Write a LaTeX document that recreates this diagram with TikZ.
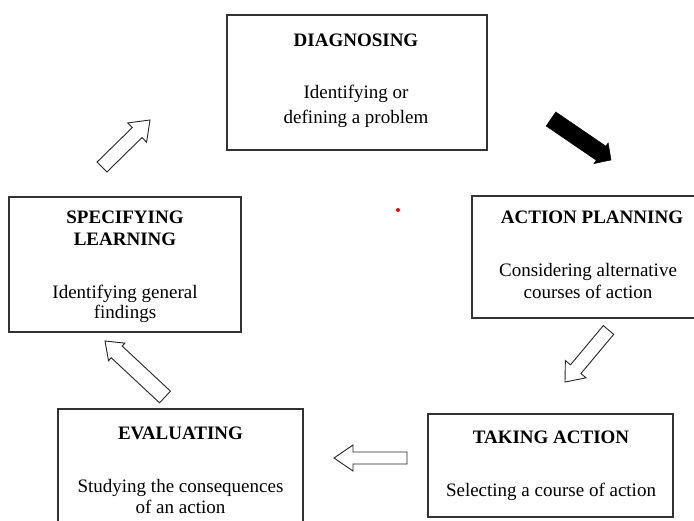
\documentclass[tikz,border=0pt]{standalone}
\usepackage{fontspec}
\setmainfont{Liberation Serif}
\usetikzlibrary{calc}
% block arrow: [style]{tail}{tip}{half shaft width}{half head width}{head length}
\newcommand\blockarr[6][]{%
  \coordinate (ba-b) at ($(#3)!#6!(#2)$);
  \draw[#1] ($(#2)!#4!90:(#3)$) -- ($(ba-b)!#4!90:(#3)$) -- ($(ba-b)!#5!90:(#3)$) -- (#3)
    -- ($(ba-b)!#5!-90:(#3)$) -- ($(ba-b)!#4!-90:(#3)$) -- ($(#2)!#4!-90:(#3)$) -- cycle;}
\begin{document}
\begin{tikzpicture}[x=1pt,y=-1pt,
  box/.style={draw=black!80,line width=1.1pt,inner sep=0pt},
  ttl/.style={font=\fontsize{19}{23}\selectfont\bfseries,anchor=base,inner sep=0pt},
  txt/.style={font=\fontsize{19}{23}\selectfont,anchor=base,inner sep=0pt},
  harrow/.style={draw=black!85,line width=0.9pt,fill=white,line join=miter},
  farrow/.style={draw=black,fill=black,line width=0.5pt,line join=miter}]
\clip (0,0) rectangle (694,521);
\fill[white] (0,0) rectangle (694,521);
% boxes
\node[box,minimum width=260pt,minimum height=135pt] (diag) at (357,82.5) {};
\node[box,minimum width=233pt,minimum height=122pt] (plan) at (588.5,257) {};
\node[box,minimum width=245pt,minimum height=103pt] (take) at (550.5,465.5) {};
\node[box,minimum width=245pt,minimum height=126pt] (eval) at (180.5,472) {};
\node[box,minimum width=232pt,minimum height=135pt] (spec) at (125,264.5) {};
% texts
\node[ttl] (diagT) at (356,47) {DIAGNOSING};
\node[txt] (diagA) at (356,99) {Identifying or};
\node[txt] (diagB) at (356,124) {defining a problem};
\node[ttl] (planT) at (592,224) {ACTION PLANNING};
\node[txt] (planA) at (588,277) {Considering alternative};
\node[txt] (planB) at (588,299) {courses of action};
\node[ttl] (specT) at (125,224) {SPECIFYING};
\node[ttl] (specU) at (125,246) {LEARNING};
\node[txt] (specA) at (125,299) {Identifying general};
\node[txt] (specB) at (125,319) {findings};
\node[ttl] (evalT) at (180.5,439) {EVALUATING};
\node[txt] (evalA) at (180.5,492) {Studying the consequences};
\node[txt] (evalB) at (180.5,513) {of an action};
\node[ttl] (takeT) at (551,443) {TAKING ACTION};
\node[txt] (takeA) at (551,496) {Selecting a course of action};
% arrows
\coordinate (a1t) at (551,119); \coordinate (a1h) at (611,160);
\blockarr[farrow]{a1t}{a1h}{8.5pt}{12.5pt}{12pt}
\coordinate (a2t) at (608.5,330); \coordinate (a2h) at (565,382);
\blockarr[harrow]{a2t}{a2h}{6.8pt}{13.5pt}{16.7pt}
\coordinate (a3t) at (407,458); \coordinate (a3h) at (334,458);
\blockarr[harrow]{a3t}{a3h}{6pt}{13pt}{19pt}
\coordinate (a4t) at (165,397); \coordinate (a4h) at (105,341);
\blockarr[harrow]{a4t}{a4h}{8pt}{12pt}{16pt}
\coordinate (a5t) at (102,167); \coordinate (a5h) at (150,120);
\blockarr[harrow]{a5t}{a5h}{7pt}{13.5pt}{18pt}
% red dot
\node[circle,fill=red,inner sep=0pt,minimum size=4pt] (dot) at (398,210) {};
\end{tikzpicture}
\end{document}
